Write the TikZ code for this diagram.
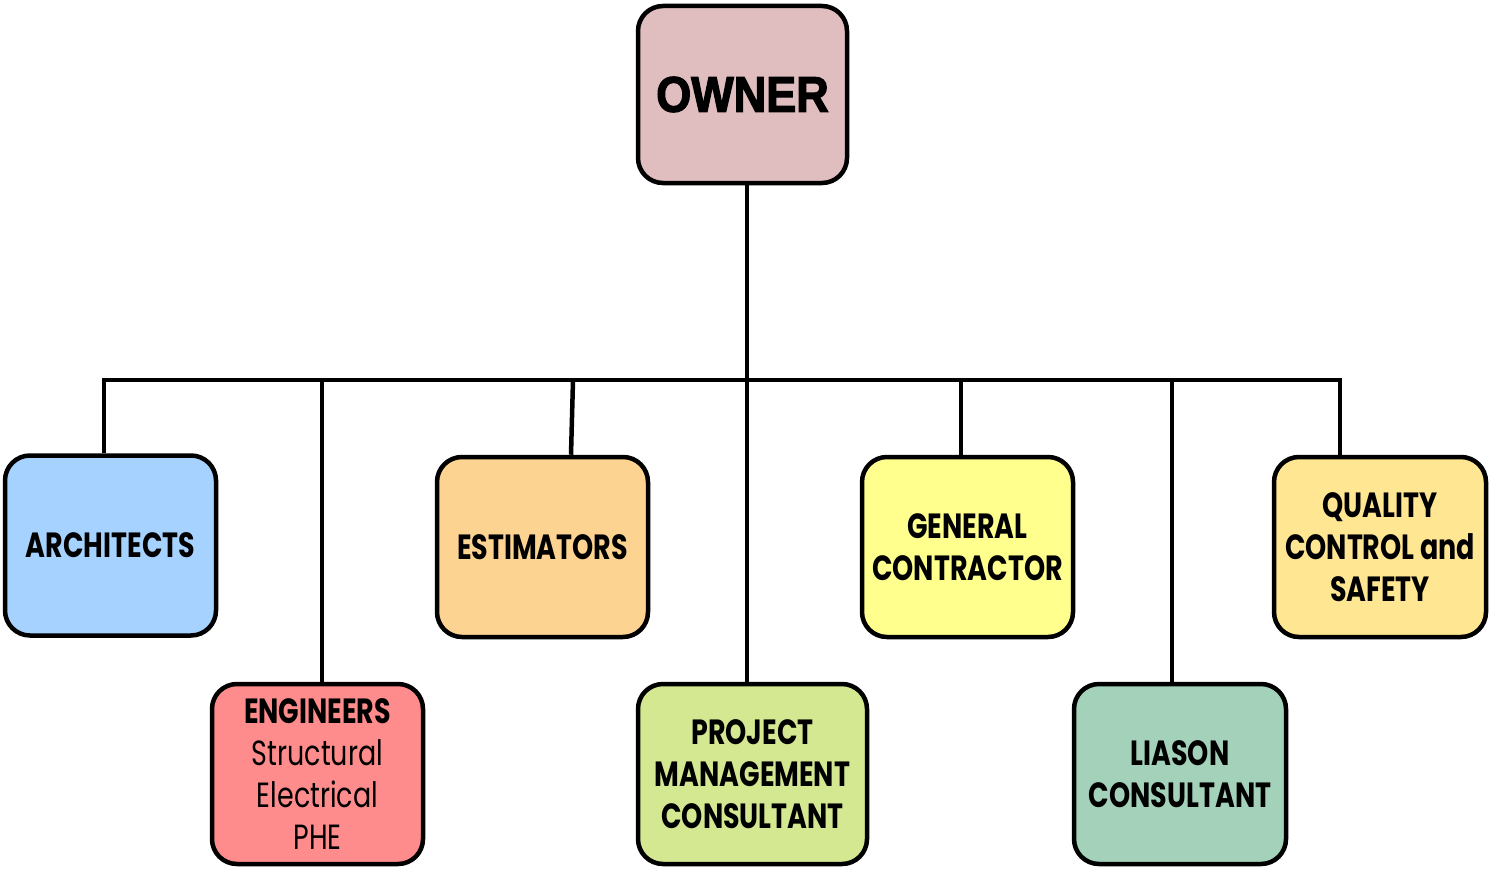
\documentclass[tikz,border=0pt]{standalone}
\usepackage{fontspec}
\newfontfamily\cg[FakeStretch=0.77]{Poppins}
\newfontfamily\blk[FakeStretch=0.9,FakeBold=2.5]{Liberation Sans}
\definecolor{cOwner}{HTML}{E0BEC0}
\definecolor{cArch}{HTML}{A6D2FF}
\definecolor{cEst}{HTML}{FDD391}
\definecolor{cEng}{HTML}{FF8C8C}
\definecolor{cPmc}{HTML}{D3E891}
\definecolor{cGc}{HTML}{FFFF8E}
\definecolor{cLia}{HTML}{A3D1BA}
\definecolor{cQua}{HTML}{FFE692}
\tikzset{
  box/.style={draw=black, line width=4.5pt, rounded corners=25pt, inner sep=0pt,
    minimum width=211pt, minimum height=180pt, align=center,
    font=\cg\bfseries\fontsize{35}{42}\selectfont},
  conn/.style={line width=4.5pt, draw=black},
}
\begin{document}
\begin{tikzpicture}[x=1pt,y=-1pt]
\useasboundingbox (0,0) rectangle (1498,880);
\node[box, fill=cOwner, minimum width=209pt, minimum height=177pt, font=\blk\bfseries\fontsize{50}{56}\selectfont] (owner) at (742.5,94.5) {OWNER};
\node[box, fill=cArch] (arch) at (110.5,545.5) {ARCHITECTS};
\node[box, fill=cEng] (eng) at (317.5,774) {ENGINEERS\\{\mdseries Structural}\\{\mdseries Electrical}\\{\mdseries PHE}};
\node[box, fill=cEst] (est) at (542.5,547) {ESTIMATORS};
\node[box, fill=cPmc, minimum width=229pt] (pmc) at (752.5,774) {PROJECT\\MANAGEMENT\\CONSULTANT};
\node[box, fill=cGc] (gc) at (967.5,547) {GENERAL\\CONTRACTOR};
\node[box, fill=cLia, minimum width=212pt] (lia) at (1180,774) {LIASON\\CONSULTANT};
\node[box, fill=cQua, minimum width=212pt] (qua) at (1380,547) {QUALITY\\CONTROL and\\SAFETY};
\coordinate (b1) at (104,380);
\coordinate (b2) at (322,380);
\coordinate (b3) at (573,380);
\coordinate (b4) at (747,380);
\coordinate (b5) at (961,380);
\coordinate (b6) at (1172,380);
\coordinate (b7) at (1340,380);
\draw[conn, line cap=rect] (b1) -- (b7);
\draw[conn] ([xshift=4.5pt]owner.south) -- ([xshift=-5.5pt]pmc.north);
\draw[conn] (b1) -- (b1 |- arch.north);
\draw[conn] (b2) -- (b2 |- eng.north);
\draw[conn] (b3) -- ([xshift=28.5pt]est.north);
\draw[conn] (b5) -- (b5 |- gc.north);
\draw[conn] (b6) -- (b6 |- lia.north);
\draw[conn] (b7) -- (b7 |- qua.north);
\end{tikzpicture}
\end{document}
